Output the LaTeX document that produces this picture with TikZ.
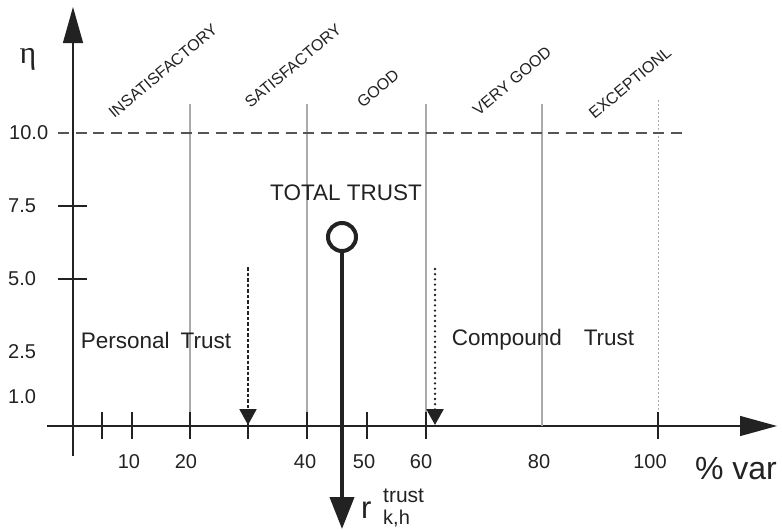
\documentclass[tikz,border=0pt]{standalone}
\usepackage{fontspec}
\setmainfont{Liberation Sans}
\newfontfamily\greekfont{Liberation Serif}
\usetikzlibrary{arrows.meta}
\definecolor{ink}{HTML}{222222}
\definecolor{grid}{HTML}{AAAAAA}
\definecolor{dash}{HTML}{555555}
\tikzset{
  axisline/.style={draw=ink, line width=1.3pt},
  tickmark/.style={draw=ink, line width=1.1pt},
  gridline/.style={draw=grid, line width=1.2pt},
  limitline/.style={draw=dash, line width=1.3pt, dash pattern=on 11pt off 6.5pt},
  ticklabel/.style={text=ink, font=\fontsize{20}{20}\selectfont, inner sep=0pt},
  catlabel/.style={text=ink, font=\fontsize{16}{16}\selectfont, rotate=40, inner sep=0pt},
  bodytext/.style={text=ink, font=\fontsize{22.5}{22.5}\selectfont, inner sep=0pt},
  trustarrow/.style={draw=ink, line width=2pt, -{Triangle[length=16pt,width=17pt]}},
}
\begin{document}
\begin{tikzpicture}[x=1pt,y=-1pt]
\useasboundingbox[fill=white] (0,0) rectangle (782,530);

% axes
\coordinate (xs) at (47,426);
\coordinate (xe) at (777,426);
\coordinate (ys) at (73,456);
\coordinate (ye) at (73,7);
\draw[axisline, -{Triangle[length=37pt,width=20pt]}] (xs) -- (xe);
\draw[axisline, -{Triangle[length=36pt,width=20pt]}] (ys) -- (ye);

% grade boundaries
\foreach \gx in {190,307,426,542}
  \draw[gridline] (\gx,104) -- (\gx,426);
\draw[gridline, line width=1pt, dash pattern=on 2pt off 2pt] (658,100) -- (658,426);

% upper limit of eta
\draw[limitline] (58,133) -- (685,133);

% ticks on the percentage axis
\foreach \tx in {102,132,190,248,307,367,426,658}
  \draw[tickmark] (\tx,412) -- (\tx,439);

% ticks on the eta axis
\draw[tickmark] (58,206) -- (87,206);
\draw[tickmark] (58,279) -- (87,279);

% eta axis labels
\node[text=ink, font=\fontsize{32}{32}\selectfont, inner sep=0pt] (eta) at (28,59) {\greekfont η};
\node[ticklabel, anchor=west] (l100) at (9,133) {10.0};
\node[ticklabel, anchor=west] (l75) at (8,206) {7.5};
\node[ticklabel, anchor=west] (l50) at (8,279) {5.0};
\node[ticklabel, anchor=west] (l25) at (8,352) {2.5};
\node[ticklabel, anchor=west] (l10) at (8,397) {1.0};

% percentage axis labels
\node[ticklabel] (p10) at (129,462) {10};
\node[ticklabel] (p20) at (186,462) {20};
\node[ticklabel] (p40) at (305,462) {40};
\node[ticklabel] (p50) at (364,462) {50};
\node[ticklabel] (p60) at (421,462) {60};
\node[ticklabel] (p80) at (539,462) {80};
\node[ticklabel] (p100) at (650,462) {100};
\node[text=ink, font=\fontsize{32}{32}\selectfont, inner sep=0pt] (pvar) at (736,469) {\% var};

% grade names
\node[catlabel] (c1) at (163,71) {INSATISFACTORY};
\node[catlabel] (c2) at (293,66) {SATISFACTORY};
\node[catlabel] (c3) at (378,89) {GOOD};
\node[catlabel] (c4) at (512,81) {VERY GOOD};
\node[catlabel] (c5) at (630,83) {EXCEPTIONL};

% trust components
\node[bodytext] (total) at (346,193) {TOTAL TRUST};
\node[bodytext] (personal) at (156,340) {Personal\hspace{11pt}Trust};
\node[bodytext] (compound) at (543,340) {Compound\hspace{22pt}Trust};

\coordinate (ptop) at (248,267);
\coordinate (pbot) at (248,425);
\draw[trustarrow, dash pattern=on 3.5pt off 2pt] (ptop) -- (pbot);
\coordinate (ctop) at (435,269);
\coordinate (cbot) at (435,425);
\draw[trustarrow, line width=2.6pt, line cap=round, dash pattern=on 0pt off 5.2pt] (ctop) -- (cbot);

% resulting trust value
\node[circle, draw=ink, line width=4pt, minimum size=28pt, inner sep=0pt] (res) at (342,237) {};
\coordinate (rend) at (342,529);
\draw[draw=ink, line width=4pt, -{Triangle[length=32pt,width=24pt]}] (res.south) -- (rend);
\node[text=ink, font=\fontsize{31}{31}\selectfont, inner sep=0pt, anchor=base west] (rsym) at (361,518) {r};
\node[text=ink, font=\fontsize{21}{21}\selectfont, inner sep=0pt, anchor=base west] (rsup) at (383,502) {trust};
\node[text=ink, font=\fontsize{20}{20}\selectfont, inner sep=0pt, anchor=base west] (rsub) at (383,524) {k,h};
\end{tikzpicture}
\end{document}
